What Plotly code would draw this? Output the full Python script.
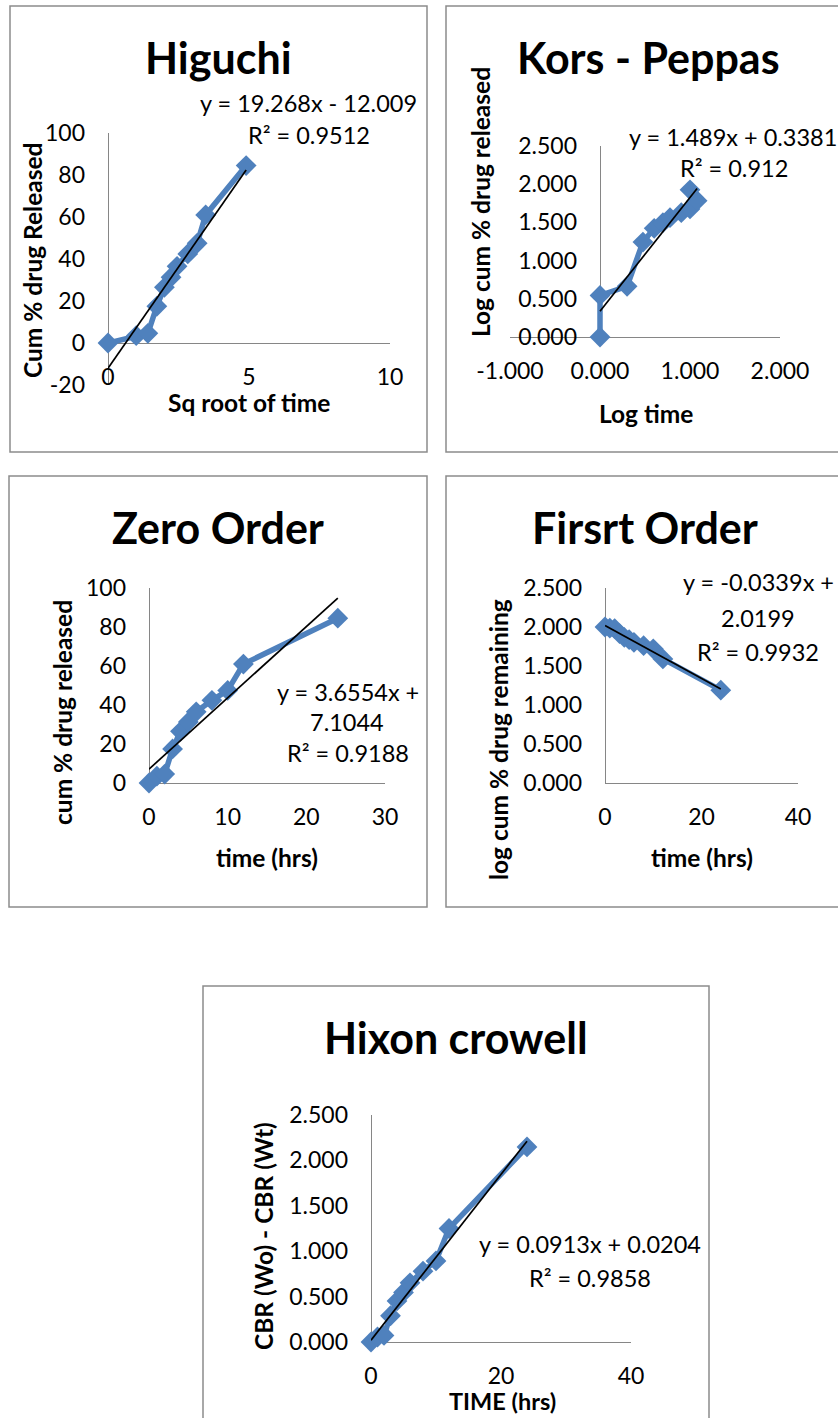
import plotly.graph_objects as go

W, H = 838, 1418
FONT = "Lato"
BLUE = "#4F81BD"
AXIS_GREY = "#868686"
BOX_GREY = "#8C8C8C"

# ---------------- release data ----------------
time_hrs = [0, 1, 2, 3, 4, 5, 6, 8, 10, 12, 24]
sqrt_time = [0, 1.000, 1.414, 1.732, 2.000, 2.236, 2.449, 2.828, 3.162, 3.464, 4.899]
cum_released = [0, 3.5, 4.6, 17.5, 26.5, 31.3, 36.5, 42.4, 47.5, 61.0, 84.5]
log_time = [0, 0, 0.301, 0.477, 0.602, 0.699, 0.778, 0.903, 1.000, 1.079, 1.000]
log_cum_released = [0, 0.544, 0.663, 1.243, 1.423, 1.496, 1.562, 1.627, 1.677, 1.785, 1.927]
log_remaining = [2.000, 1.985, 1.980, 1.916, 1.866, 1.837, 1.803, 1.760, 1.720, 1.591, 1.190]
cbr_difference = [0, 0.055, 0.072, 0.289, 0.452, 0.546, 0.652, 0.780, 0.893, 1.250, 2.148]

# linear trend lines: (slope, intercept, R²)
higuchi_fit = (19.268, -12.009, "0.9512")
peppas_fit = (1.489, 0.3381, "0.912")
zero_fit = (3.6554, 7.1044, "0.9188")
first_fit = (-0.0339, 2.0199, "0.9932")
hixson_fit = (0.0913, 0.0204, "0.9858")

# ---------------- tick values ----------------
higuchi_xticks = [0, 5, 10]
higuchi_yticks = [-20, 0, 20, 40, 60, 80, 100]
peppas_xticks = [-1, 0, 1, 2]
peppas_yticks = [0, 0.5, 1.0, 1.5, 2.0, 2.5]
zero_xticks = [0, 10, 20, 30]
zero_yticks = [0, 20, 40, 60, 80, 100]
first_xticks = [0, 20, 40]
first_yticks = [0, 0.5, 1.0, 1.5, 2.0, 2.5]
hixson_xticks = [0, 20, 40]
hixson_yticks = [0, 0.5, 1.0, 1.5, 2.0, 2.5]


def px(x):
    return x / W


def py(y):
    return 1 - y / H


def fmt3(v):
    return f"{v:.3f}"


def fmt0(v):
    return f"{v:g}"


panels = [
    dict(x=sqrt_time, y=cum_released, fit=higuchi_fit,
         xt=higuchi_xticks, yt=higuchi_yticks, xf=fmt0, yf=fmt0,
         box=(10, 6, 427, 452), plot=(108, 133, 390, 385)),
    dict(x=log_time, y=log_cum_released, fit=peppas_fit,
         xt=peppas_xticks, yt=peppas_yticks, xf=fmt3, yf=fmt3,
         box=(446, 6, 852, 452), plot=(510, 146, 780, 337)),
    dict(x=time_hrs, y=cum_released, fit=zero_fit,
         xt=zero_xticks, yt=zero_yticks, xf=fmt0, yf=fmt0,
         box=(9, 476, 427, 907), plot=(149, 588, 385, 783)),
    dict(x=time_hrs, y=log_remaining, fit=first_fit,
         xt=first_xticks, yt=first_yticks, xf=fmt0, yf=fmt3,
         box=(446, 476, 852, 907), plot=(605, 588, 798, 783)),
    dict(x=time_hrs, y=cbr_difference, fit=hixson_fit,
         xt=hixson_xticks, yt=hixson_yticks, xf=fmt0, yf=fmt3,
         box=(203, 986, 709, 1440), plot=(371, 1115, 631, 1342)),
]

fig = go.Figure()
shapes = []

for i, p in enumerate(panels, start=1):
    xs = "" if i == 1 else str(i)
    l, t, r, b = p["plot"]
    xdom = [px(l), px(r)]
    ydom = [py(b), py(t)]
    xr = [min(p["xt"]), max(p["xt"])]
    yr = [min(p["yt"]), max(p["yt"])]
    # axes cross at zero
    ypos = xdom[0] + (0 - xr[0]) / (xr[1] - xr[0]) * (xdom[1] - xdom[0])
    xpos = ydom[0] + (0 - yr[0]) / (yr[1] - yr[0]) * (ydom[1] - ydom[0])

    fig.add_trace(go.Scatter(
        x=p["x"], y=p["y"], mode="lines+markers",
        line=dict(color=BLUE, width=5.5),
        marker=dict(symbol="diamond", size=16, color=BLUE),
        cliponaxis=False, showlegend=False,
        xaxis="x" + xs, yaxis="y" + xs))

    slope, icpt, _ = p["fit"]
    fx = [min(p["x"]), max(p["x"])]
    fy = [slope * v + icpt for v in fx]
    fig.add_trace(go.Scatter(
        x=fx, y=fy, mode="lines", line=dict(color="black", width=1.7),
        showlegend=False, xaxis="x" + xs, yaxis="y" + xs))

    common = dict(showgrid=False, showline=False, zeroline=True,
                  zerolinecolor=AXIS_GREY, zerolinewidth=1, automargin=False,
                  ticks="", tickfont=dict(family=FONT, size=23, color="black"),
                  fixedrange=True)
    fig.update_layout(**{
        "xaxis" + xs: dict(domain=xdom, range=xr, tickmode="array",
                           tickvals=p["xt"], ticktext=[p["xf"](v) for v in p["xt"]],
                           anchor="free", position=xpos, ticklabelstandoff=18,
                           **common),
        "yaxis" + xs: dict(domain=ydom, range=yr, tickmode="array",
                           tickvals=p["yt"], ticktext=[p["yf"](v) for v in p["yt"]],
                           anchor="free", position=ypos, ticklabelstandoff=23,
                           **common),
    })

    bl, bt, br, bb = p["box"]
    shapes.append(dict(type="rect", xref="paper", yref="paper",
                       x0=px(bl), x1=px(br), y0=py(bb), y1=py(bt),
                       line=dict(color=BOX_GREY, width=1.5)))

annotations = []


def label(text, x, y, size=23.5, bold=False, angle=0):
    annotations.append(dict(
        text=f"<b>{text}</b>" if bold else text,
        x=px(x), y=py(y), xref="paper", yref="paper",
        xanchor="center", yanchor="middle", showarrow=False, textangle=angle,
        font=dict(family=FONT, size=size, color="black")))


# chart titles
TT = 43
label("Higuchi", 218, 57, TT, True)
label("Kors - Peppas", 648, 57, TT, True)
label("Zero Order", 218, 527, TT, True)
label("Firsrt Order", 645, 527, TT, True)
label("Hixon crowell", 456, 1037, TT, True)

# axis titles
AT = 24.5
label("Cum % drug Released", 32, 261, AT, True, -90)
label("Sq root of time", 249, 402, AT, True)
label("Log cum % drug released", 480, 202, AT, True, -90)
label("Log time", 646, 413, AT, True)
label("cum % drug released", 62, 712, AT, True, -90)
label("time (hrs)", 267, 858, AT, True)
label("log cum % drug remaining", 498, 740, AT, True, -90)
label("time (hrs)", 702, 858, AT, True)
label("CBR (Wo) - CBR (Wt)", 263, 1236, AT, True, -90)
label("TIME (hrs)", 502, 1401, 23.5, True)


# trend line equations
def eq(fit):
    s, c, _ = fit
    sign = "+" if c >= 0 else "-"
    return f"y = {s}x {sign} {abs(c)}"


label(eq(higuchi_fit), 308, 103)
label(f"R² = {higuchi_fit[2]}", 309, 135)
label(eq(peppas_fit), 733, 137)
label(f"R² = {peppas_fit[2]}", 734, 168)
label(f"y = {zero_fit[0]}x +", 348, 692)
label(f"{zero_fit[1]}", 347, 722)
label(f"R² = {zero_fit[2]}", 348, 753)
label(f"y = {first_fit[0]}x +", 758, 582)
label(f"{first_fit[1]}", 758, 618)
label(f"R² = {first_fit[2]}", 758, 652)
label(eq(hixson_fit), 590, 1244)
label(f"R² = {hixson_fit[2]}", 590, 1278)

fig.update_layout(
    width=W, height=H, margin=dict(l=0, r=0, t=0, b=0, autoexpand=False),
    paper_bgcolor="white", plot_bgcolor="white",
    shapes=shapes, annotations=annotations,
    font=dict(family=FONT),
)

fig.write_html("out.html")
